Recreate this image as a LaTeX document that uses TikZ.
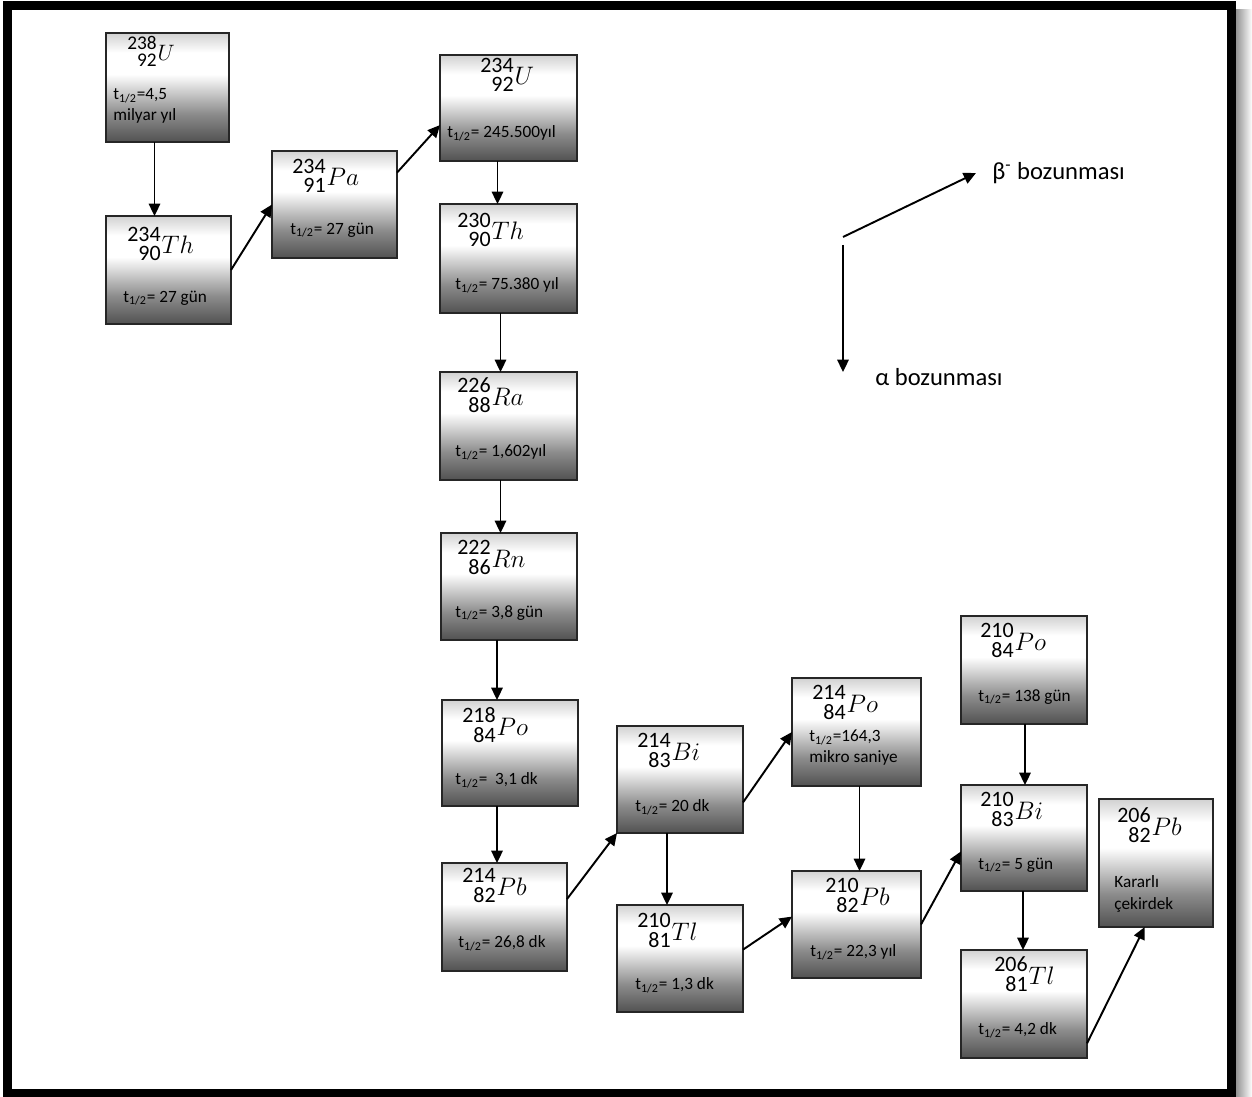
\documentclass[tikz,border=0pt]{standalone}
\usepackage{fontspec}
\setmainfont{Carlito}
\usetikzlibrary{arrows.meta,calc,fit}

% box fill: light at top, white, dark at the bottom
\pgfdeclareverticalshading{nucshade}{100bp}{color(0bp)=(black!68); color(25bp)=(black!68); color(38bp)=(black!45); color(56bp)=(white); color(66bp)=(white); color(75bp)=(black!18); color(100bp)=(black!18)}

\newcommand{\iso}[3]{{\fontsize{12.5}{10.5}\selectfont\begin{tabular}[b]{@{}r@{}}#1\\#2\end{tabular}}\hspace{0.5pt}\raisebox{4pt}{\fontsize{15}{15}\selectfont$#3$}}
\newcommand{\thalf}{t\textsubscript{1/2}}

\tikzset{
  nuc/.style={draw=black!85, line width=1.1pt, shading=nucshade, inner sep=0pt, outer sep=0pt},
  isolbl/.style={anchor=base west, inner sep=0pt},
  hlf/.style={anchor=west, inner sep=0pt, align=left, font=\fontsize{9.8}{12}\selectfont},
  decay/.style={-{Triangle[length=7pt,width=6.5pt]}, line width=1.1pt},
  legtxt/.style={anchor=west, inner sep=0pt, font=\fontsize{14}{16}\selectfont}
}

\begin{document}
\begin{tikzpicture}[x=0.02cm,y=-0.02cm]
\useasboundingbox (0,0) rectangle (1252,1097);
% frame
\shade[left color=black!45, right color=white] (1235,10) rectangle (1252,1097);
\draw[line width=4.8pt] (7.5,5.5) rectangle (1231.5,1093.5);

% boxes
\node[nuc, fit={(106,33) (229,142)}] (U238) {};
\node[isolbl] (U238n) at ($(U238.north west)+(21,34)$) {\scalebox{0.88}{\iso{238}{92}{U}}};
\node[hlf] (U238t) at ($(U238.north west)+(7,73)$) {\thalf=4,5\\milyar yıl};

\node[nuc, fit={(106,216) (231,324)}] (Th234) {};
\node[isolbl] (Th234n) at ($(Th234.north west)+(21,45)$) {\iso{234}{90}{Th}};
\node[hlf] (Th234t) at ($(Th234.north west)+(17,82)$) {\thalf= 27 gün};

\node[nuc, fit={(272,151) (397,258)}] (Pa234) {};
\node[isolbl] (Pa234n) at ($(Pa234.north west)+(20,42)$) {\iso{234}{91}{Pa}};
\node[hlf] (Pa234t) at ($(Pa234.north west)+(18,79)$) {\thalf= 27 gün};

\node[nuc, fit={(440,55) (577,161)}] (U234) {};
\node[isolbl] (U234n) at ($(U234.north west)+(40,37)$) {\iso{234}{92}{U}};
\node[hlf] (U234t) at ($(U234.north west)+(7,78)$) {\thalf= 245.500yıl};

\node[nuc, fit={(440,204) (577,313)}] (Th230) {};
\node[isolbl] (Th230n) at ($(Th230.north west)+(17,43)$) {\iso{230}{90}{Th}};
\node[hlf] (Th230t) at ($(Th230.north west)+(15,81)$) {\thalf= 75.380 yıl};

\node[nuc, fit={(440,372) (577,480)}] (Ra226) {};
\node[isolbl] (Ra226n) at ($(Ra226.north west)+(17,41)$) {\iso{226}{88}{Ra}};
\node[hlf] (Ra226t) at ($(Ra226.north west)+(15,80)$) {\thalf= 1,602yıl};

\node[nuc, fit={(441,533) (577,640)}] (Rn222) {};
\node[isolbl] (Rn222n) at ($(Rn222.north west)+(16,42)$) {\iso{222}{86}{Rn}};
\node[hlf] (Rn222t) at ($(Rn222.north west)+(14,80)$) {\thalf= 3,8 gün};

\node[nuc, fit={(442,700) (578,806)}] (Po218) {};
\node[isolbl] (Po218n) at ($(Po218.north west)+(20,43)$) {\iso{218}{84}{Po}};
\node[hlf] (Po218t) at ($(Po218.north west)+(13,80)$) {\thalf= \ 3,1 dk};

\node[nuc, fit={(442,863) (567,971)}] (Pb214) {};
\node[isolbl] (Pb214n) at ($(Pb214.north west)+(20,40)$) {\iso{214}{82}{Pb}};
\node[hlf] (Pb214t) at ($(Pb214.north west)+(16,80)$) {\thalf= 26,8 dk};

\node[nuc, fit={(617,726) (743,833)}] (Bi214) {};
\node[isolbl] (Bi214n) at ($(Bi214.north west)+(20,42)$) {\iso{214}{83}{Bi}};
\node[hlf] (Bi214t) at ($(Bi214.north west)+(18,81)$) {\thalf= 20 dk};

\node[nuc, fit={(617,905) (743,1012)}] (Tl210) {};
\node[isolbl] (Tl210n) at ($(Tl210.north west)+(20,43)$) {\iso{210}{81}{Tl}};
\node[hlf] (Tl210t) at ($(Tl210.north west)+(18,80)$) {\thalf= 1,3 dk};

\node[nuc, fit={(792,678) (921,786)}] (Po214) {};
\node[isolbl] (Po214n) at ($(Po214.north west)+(20,42)$) {\iso{214}{84}{Po}};
\node[hlf] (Po214t) at ($(Po214.north west)+(17,70)$) {\thalf=164,3\\mikro saniye};

\node[nuc, fit={(792,871) (921,978)}] (Pb210) {};
\node[isolbl] (Pb210n) at ($(Pb210.north west)+(33,42)$) {\iso{210}{82}{Pb}};
\node[hlf] (Pb210t) at ($(Pb210.north west)+(18,81)$) {\thalf= 22,3 yıl};

\node[nuc, fit={(961,616) (1087,724)}] (Po210) {};
\node[isolbl] (Po210n) at ($(Po210.north west)+(19,42)$) {\iso{210}{84}{Po}};
\node[hlf] (Po210t) at ($(Po210.north west)+(17,81)$) {\thalf= 138 gün};

\node[nuc, fit={(961,785) (1087,891)}] (Bi210) {};
\node[isolbl] (Bi210n) at ($(Bi210.north west)+(19,42)$) {\iso{210}{83}{Bi}};
\node[hlf] (Bi210t) at ($(Bi210.north west)+(17,80)$) {\thalf= 5 gün};

\node[nuc, fit={(961,950) (1087,1058)}] (Tl206) {};
\node[isolbl] (Tl206n) at ($(Tl206.north west)+(33,42)$) {\iso{206}{81}{Tl}};
\node[hlf] (Tl206t) at ($(Tl206.north west)+(17,80)$) {\thalf= 4,2 dk};

\node[nuc, fit={(1099,799) (1213,927)}] (Pb206) {};
\node[isolbl] (Pb206n) at ($(Pb206.north west)+(18,44)$) {\iso{206}{82}{Pb}};
\node[hlf] (Pb206t) at ($(Pb206.north west)+(15,95)$) {Kararlı\\çekirdek};

% alpha steps (down)
\draw[decay] ($(U238.south)+(-13,0)$) coordinate (a1) -- (a1 |- Th234.north);
\draw[decay] ($(U234.south)+(-11,0)$) coordinate (a2) -- (a2 |- Th230.north);
\draw[decay] ($(Th230.south)+(-8,0)$) coordinate (a3) -- (a3 |- Ra226.north);
\draw[decay] ($(Ra226.south)+(-8,0)$) coordinate (a4) -- (a4 |- Rn222.north);
\draw[decay] ($(Rn222.south)+(-12,0)$) coordinate (a5) -- (a5 |- Po218.north);
\draw[decay] ($(Po218.south)+(-13,0)$) coordinate (a6) -- (a6 |- Pb214.north);
\draw[decay] ($(Bi214.south)+(-13,0)$) coordinate (a7) -- (a7 |- Tl210.north);
\draw[decay] ($(Po214.south)+(3,0)$) coordinate (a8) -- (a8 |- Pb210.north);
\draw[decay] ($(Po210.south)+(1,0)$) coordinate (a9) -- (a9 |- Bi210.north);
\draw[decay] ($(Bi210.south)+(-1,0)$) coordinate (a10) -- (a10 |- Tl206.north);

% beta steps (up right)
\draw[decay] (Th234.east) -- (Pa234.west);
\draw[decay] (Pa234.27) -- (U234.194);
\draw[decay] (Pb214.16) -- (Bi214.south west);
\draw[decay] (Bi214.-20) -- (Po214.west);
\draw[decay] (Tl210.8) -- (Pb210.173);
\draw[decay] (Pb210.east) -- (Bi210.192);
\draw[decay] (Tl206.-32) -- (Pb206.260);

% legend
\coordinate (legB) at (843,237);
\coordinate (legA) at (843,245);
\coordinate (legAend) at (843,372);
\node[legtxt] (betaLbl) at (992,173) {β\textsuperscript{-} bozunması};
\node[legtxt] (alphaLbl) at (875,377) {α bozunması};
\draw[decay] (legB) -- ($(betaLbl.west)+(-16,0)$);
\draw[decay] (legA) -- (legAend);
\end{tikzpicture}
\end{document}
